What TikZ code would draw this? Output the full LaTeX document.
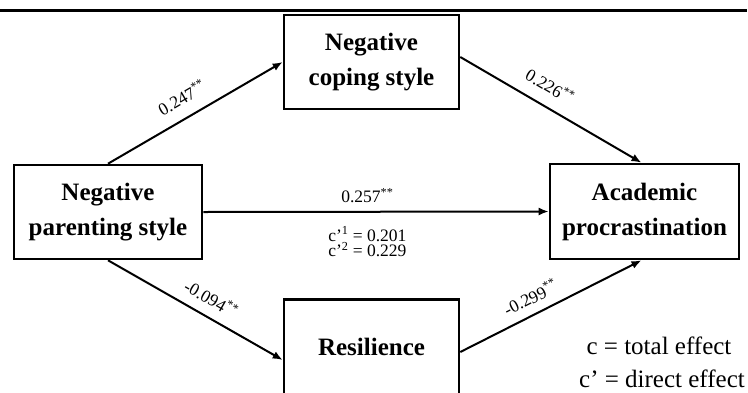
\documentclass[tikz,border=0pt]{standalone}
\usepackage{fontspec}
\setmainfont{Liberation Serif}
\usetikzlibrary{arrows.meta}

\begin{document}
\begin{tikzpicture}[x = 1pt, y = -1pt,
    box/.style = {draw, line width = 2.6pt, align = center, inner sep = 0pt,
      font = \fontsize{25}{35}\selectfont\bfseries},
    arr/.style = {line width = 2pt, -{Latex[length = 10pt, width = 8pt]}},
    coef/.style = {font = \fontsize{17.5}{13}\selectfont, inner sep = 1pt, align = center},
    legend/.style = {font = \fontsize{25}{33}\selectfont, inner sep = 0pt, anchor = base}]
  \useasboundingbox (0, 0) rectangle (748, 392);
  \draw[line width = 2.3pt] (0, 10.5) -- (747, 10.5);

  \node[box, minimum width = 175pt, minimum height = 94pt] (coping) at (371.5, 62)
    {Negative\\coping style};
  \node[box, minimum width = 188pt, minimum height = 94pt] (parent) at (108, 212)
    {Negative\\parenting style};
  \node[box, minimum width = 189pt, minimum height = 95pt] (acad) at (644.5, 211.5)
    {Academic\\procrastination};
  \node[box, minimum width = 175pt, minimum height = 95pt] (resil) at (371.5, 347)
    {Resilience};

  \draw[arr] (parent.north) -- node[coef, sloped, above = 11pt, pos = .48]
    {0.247\textsuperscript{**}} (coping.west);
  \draw[arr] ([yshift = 5pt]coping.east) -- node[coef, sloped, above = 11pt, pos = .44]
    {0.226\textsuperscript{**}} ([xshift = -3pt]acad.north);
  \draw[arr] (parent.east) --
    node[coef, above = 7pt, pos = .475] {0.257\textsuperscript{**}}
    node[coef, below = 13pt, pos = .475] {c’\textsuperscript{1} = 0.201\\c’\textsuperscript{2} = 0.229}
    (acad.west);
  \draw[arr] (parent.south) -- node[coef, sloped, above = 9pt, pos = .54]
    {-0.094\textsuperscript{**}} ([yshift = -13pt]resil.west);
  \draw[arr] ([yshift = -5pt]resil.east) -- node[coef, sloped, above = 8pt, pos = .43]
    {-0.299\textsuperscript{**}} ([xshift = -3pt]acad.south);

  \node[legend] (ctot) at (659, 354) {c = total effect};
  \node[legend] (cdir) at (662, 387) {c’ = direct effect};
\end{tikzpicture}
\end{document}
